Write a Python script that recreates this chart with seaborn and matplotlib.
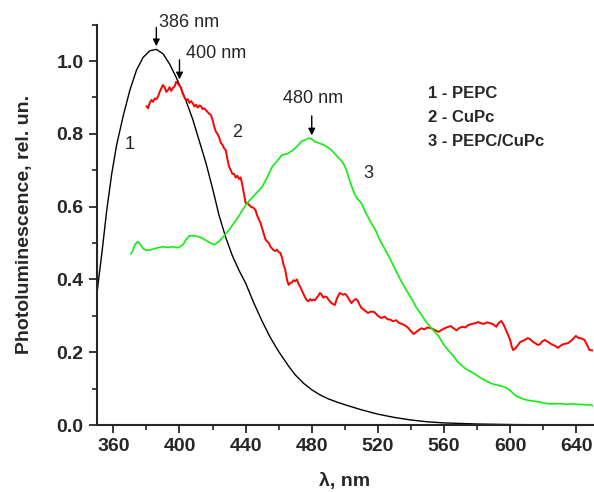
import matplotlib
matplotlib.use("Agg")
import matplotlib.pyplot as plt
import seaborn as sns
from matplotlib.ticker import MultipleLocator

# curve 1: PEPC (smooth)
pepc_nm = [350, 353, 356, 359, 362, 366, 370, 374, 378, 382, 386, 390, 394, 398,
           400, 404, 408, 412, 416, 420, 424, 428, 432, 436, 440, 445, 450, 455,
           460, 466, 470, 475, 480, 485, 490, 496, 500, 510, 520, 530, 540, 550,
           560, 580, 600, 625, 650]
pepc_pl = [0.36, 0.47, 0.59, 0.69, 0.77, 0.85, 0.92, 0.975, 1.01, 1.028, 1.032,
           1.02, 0.992, 0.955, 0.935, 0.89, 0.84, 0.78, 0.72, 0.65, 0.575, 0.515,
           0.465, 0.425, 0.39, 0.335, 0.285, 0.24, 0.202, 0.162, 0.138, 0.115,
           0.097, 0.083, 0.072, 0.062, 0.056, 0.042, 0.03, 0.021, 0.014, 0.009,
           0.006, 0.003, 0.0015, 0.0005, 0.0]

# curve 2: CuPc (noisy)
cupc_nm = [380, 381, 382, 383, 384, 385, 386, 387, 388, 389, 390, 391, 392, 393,
           394, 395, 396, 397, 398, 399, 400, 401, 402, 403, 404, 405, 406, 407,
           408, 409, 410, 411, 412, 413, 414, 415, 416, 417, 418, 419, 420, 421,
           422, 423, 424, 425, 426, 427, 428, 429, 430, 431, 432, 433, 434, 435,
           436, 437, 438, 439, 440, 441, 442, 443, 444, 445, 446, 447, 448, 449,
           450, 451, 452, 453, 454, 455, 456, 457, 458, 459, 460, 461, 462, 463,
           464, 465, 466, 467, 468, 469, 470, 471, 472, 473, 474, 475, 476, 477,
           478, 479, 480, 481, 482, 483, 484, 485, 486, 487, 488, 489, 490, 491,
           492, 493, 494, 495, 496, 497, 498, 499, 500, 501, 502, 503, 504, 505,
           506, 507, 508, 509, 510, 512, 514, 516, 518, 519, 520, 522, 524, 526,
           527.5, 529, 531, 533, 535, 537, 538.5, 540, 541.6, 543, 545, 546.4,
           548, 550, 552.4, 554, 556.6, 558, 560, 562.6, 564, 566, 567.5, 569,
           571, 573, 574.7, 577, 579, 580.7, 582, 584, 586, 588, 590, 591.6, 593,
           594.6, 596, 597.6, 599, 600, 601, 601.8, 603, 604.8, 606, 608, 610.8,
           612, 614, 616.9, 618, 619.5, 621, 623, 625, 627, 628.9, 630.5, 632,
           635, 637, 639.8, 641, 643, 645, 646.5, 648, 650]
cupc_pl = [0.876, 0.87, 0.885, 0.893, 0.888, 0.897, 0.895, 0.902, 0.915, 0.925,
           0.934, 0.928, 0.915, 0.92, 0.928, 0.918, 0.926, 0.93, 0.943, 0.938,
           0.932, 0.926, 0.91, 0.9, 0.893, 0.895, 0.885, 0.89, 0.884, 0.875,
           0.88, 0.872, 0.878, 0.876, 0.868, 0.87, 0.865, 0.86, 0.855, 0.852,
           0.838, 0.82, 0.806, 0.80, 0.79, 0.775, 0.77, 0.76, 0.755, 0.73, 0.71,
           0.70, 0.69, 0.69, 0.68, 0.685, 0.676, 0.68, 0.66, 0.635, 0.61, 0.61,
           0.605, 0.60, 0.598, 0.596, 0.59, 0.575, 0.565, 0.555, 0.54, 0.525,
           0.51, 0.505, 0.50, 0.49, 0.485, 0.48, 0.478, 0.482, 0.475, 0.473,
           0.46, 0.44, 0.426, 0.40, 0.385, 0.39, 0.392, 0.398, 0.395, 0.40,
           0.388, 0.38, 0.37, 0.36, 0.35, 0.343, 0.34, 0.346, 0.342, 0.345,
           0.343, 0.35, 0.355, 0.363, 0.358, 0.35, 0.353, 0.352, 0.345, 0.34,
           0.335, 0.332, 0.33, 0.345, 0.355, 0.363, 0.36, 0.358, 0.36, 0.357,
           0.35, 0.342, 0.335, 0.34, 0.345, 0.346, 0.34, 0.33, 0.322, 0.315,
           0.308, 0.312, 0.31, 0.305, 0.30, 0.294, 0.298, 0.29, 0.29, 0.285,
           0.288, 0.28, 0.277, 0.272, 0.266, 0.258, 0.25, 0.255, 0.262, 0.266,
           0.263, 0.268, 0.266, 0.262, 0.256, 0.26, 0.265, 0.27, 0.272, 0.265,
           0.26, 0.266, 0.27, 0.268, 0.275, 0.278, 0.28, 0.283, 0.28, 0.278,
           0.282, 0.28, 0.276, 0.27, 0.28, 0.286, 0.276, 0.26, 0.245, 0.234,
           0.215, 0.206, 0.21, 0.22, 0.228, 0.232, 0.239, 0.236, 0.228, 0.22,
           0.222, 0.23, 0.234, 0.228, 0.222, 0.218, 0.212, 0.218, 0.222, 0.225,
           0.232, 0.245, 0.24, 0.238, 0.234, 0.22, 0.206, 0.205]

# curve 3: PEPC/CuPc
mix_nm = [370.5, 371.5, 373, 374.7, 376, 378, 380, 383, 386, 389.8, 393, 396,
          399, 402, 404, 406, 409, 412, 415, 418, 421, 424, 427, 430, 433, 436,
          438, 441, 444, 447, 450, 453, 456, 459, 462, 465, 468, 471, 474, 476,
          478, 480, 482, 484, 487, 490, 492, 495, 497, 499, 501, 503, 505, 507,
          510, 513, 516, 518.6, 521, 524, 527, 530.7, 533, 536, 540, 543, 546,
          549, 552.4, 556.6, 560, 562.6, 565.7, 568, 571.7, 574, 577.7, 582,
          586.7, 590, 594, 597, 600, 603.6, 607, 610.8, 614, 617, 621, 624.7,
          630, 634, 637, 641, 645, 649, 650]
mix_pl = [0.47, 0.476, 0.495, 0.504, 0.498, 0.485, 0.48, 0.482, 0.486, 0.49,
          0.488, 0.49, 0.487, 0.495, 0.51, 0.52, 0.52, 0.517, 0.51, 0.502, 0.495,
          0.505, 0.52, 0.536, 0.555, 0.575, 0.59, 0.61, 0.625, 0.64, 0.654, 0.68,
          0.709, 0.725, 0.742, 0.745, 0.753, 0.765, 0.78, 0.783, 0.788, 0.786,
          0.778, 0.775, 0.77, 0.762, 0.755, 0.74, 0.73, 0.72, 0.70, 0.67, 0.645,
          0.625, 0.61, 0.58, 0.555, 0.535, 0.51, 0.485, 0.46, 0.426, 0.405, 0.38,
          0.35, 0.325, 0.305, 0.285, 0.266, 0.245, 0.22, 0.205, 0.19, 0.175,
          0.16, 0.152, 0.143, 0.13, 0.118, 0.112, 0.108, 0.104, 0.095, 0.08,
          0.073, 0.068, 0.066, 0.064, 0.06, 0.058, 0.059, 0.057, 0.058, 0.057,
          0.056, 0.055, 0.053]

legend_lines = ["1 - PEPC", "2 - CuPc", "3 - PEPC/CuPc"]
peak_labels = ["386 nm", "400 nm", "480 nm"]

sns.set_style("ticks")
plt.rcParams["font.family"] = ["Liberation Sans", "DejaVu Sans"]

fig = plt.figure(figsize=(5.94, 4.92), dpi=100)
ax = fig.add_axes([0.163, 0.136, 0.835, 0.814])

sns.lineplot(x=pepc_nm, y=pepc_pl, color="black", linewidth=1.0, ax=ax)
sns.lineplot(x=cupc_nm, y=cupc_pl, color="#ff0000", linewidth=1.4, ax=ax)
sns.lineplot(x=mix_nm, y=mix_pl, color="#11ee11", linewidth=1.2, ax=ax)

ax.set_xlim(350, 650)
ax.set_ylim(0, 1.1)
ax.xaxis.set_minor_locator(MultipleLocator(20))
ax.set_xticks(range(360, 641, 40))
ax.yaxis.set_minor_locator(MultipleLocator(0.1))
ax.set_yticks([0.0, 0.2, 0.4, 0.6, 0.8, 1.0])
ax.set_yticklabels(["0.0", "0.2", "0.4", "0.6", "0.8", "1.0"])
sns.despine(ax=ax)
for side in ["left", "bottom"]:
    ax.spines[side].set_linewidth(1.5)
ax.tick_params(which="major", length=6, width=1.3, labelsize=14, direction="out")
ax.tick_params(which="minor", length=3.5, width=1.2, direction="out")
for lab in ax.get_xticklabels() + ax.get_yticklabels():
    lab.set_fontweight("bold")

ax.set_xlabel("λ, nm", fontsize=14, fontweight="bold", labelpad=13)
ax.set_ylabel("Photoluminescence, rel. un.", fontsize=14, fontweight="bold", labelpad=17)

arrow = dict(arrowstyle="-|>", color="black", lw=1.0, mutation_scale=10)
ax.annotate("", xy=(386, 1.033), xytext=(386, 1.10), arrowprops=arrow, annotation_clip=False)
ax.annotate("", xy=(400, 0.942), xytext=(400, 1.011), arrowprops=arrow, annotation_clip=False)
ax.annotate("", xy=(480, 0.788), xytext=(480, 0.857), arrowprops=arrow, annotation_clip=False)
ax.text(387.5, 1.107, peak_labels[0], fontsize=13, va="center", ha="left", clip_on=False)
ax.text(404, 1.02, peak_labels[1], fontsize=13, va="center", ha="left")
ax.text(480.5, 0.898, peak_labels[2], fontsize=13, va="center", ha="center")

ax.text(370, 0.77, "1", fontsize=13, ha="center", va="center")
ax.text(435, 0.805, "2", fontsize=13, ha="center", va="center")
ax.text(514, 0.692, "3", fontsize=13, ha="center", va="center")

for i, line in enumerate(legend_lines):
    ax.text(550.5, 0.912 - i * 0.066, line, fontsize=12, fontweight="bold",
            ha="left", va="center")

fig.savefig("out.png", dpi=100)
